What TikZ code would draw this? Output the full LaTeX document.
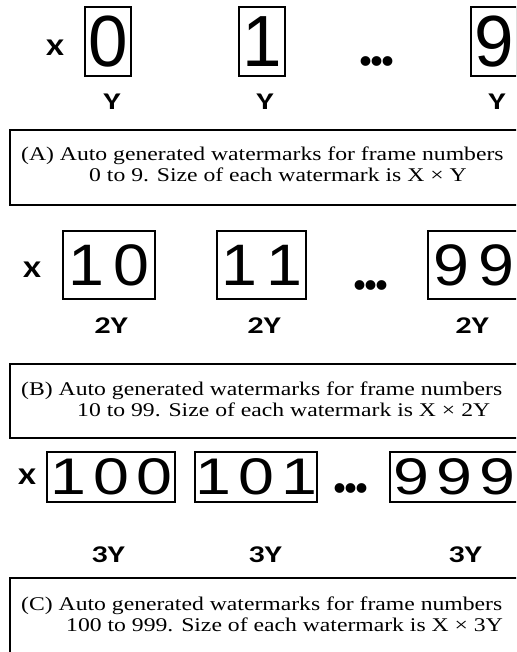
\documentclass[tikz,border=0pt]{standalone}
\usepackage{fontspec}
\usepackage{graphicx}
\setmainfont{Liberation Serif}
\newfontfamily\digitfont{Liberation Sans}
\newfontfamily\labfont{Carlito}
\newfontfamily\dotfont{Liberation Serif}
\newcommand\dig[3]{\scalebox{#1}[#2]{\digitfont\fontsize{50}{50}\selectfont #3}}
\newcommand\lab[1]{\scalebox{1.35}[1]{\labfont\bfseries\fontsize{24}{24}\selectfont #1}}
\newcommand\threedots{{\dotfont\bfseries\fontsize{60}{60}\selectfont .\hspace{-4pt}.\hspace{-4pt}.}}
\newcommand\captxtcmd[1]{\scalebox{1.22}[1]{\fontsize{19.4}{19.4}\selectfont #1}}
\begin{document}
\begin{tikzpicture}[x=1pt,y=-1pt,
  wm/.style={draw, line width=1.8pt, inner sep=0pt},
  lbl/.style={inner sep=0pt},
  dotlbl/.style={inner sep=0pt, anchor=base},
  captxt/.style={inner sep=0pt, anchor=base west},
  capbox/.style={draw, line width=1.5pt}]
\useasboundingbox (0,0) rectangle (516,652);
\clip (0,0) rectangle (516,652);
% Row 1
\node[lbl] (x1) at (55,48) {\lab{X}};
\node[wm, minimum width=46pt, minimum height=69pt] (w0) at (108,41.5) {\dig{1.42}{1.45}{0}};
\node[wm, minimum width=46pt, minimum height=69pt] (w1) at (262,41.5) {\dig{1.42}{1.45}{1}};
\node[dotlbl] (d1) at (377,66) {\threedots};
\node[wm, minimum width=46pt, minimum height=69pt] (w9) at (494,41.5) {\dig{1.42}{1.45}{9}};
\node[lbl] (y0) at (112,102) {\lab{Y}};
\node[lbl] (y1) at (265,102) {\lab{Y}};
\node[lbl] (y9) at (497,102) {\lab{Y}};
% Caption A
\draw[capbox] (10,130) rectangle (530,205);
\node[captxt] (ca1) at (21,161) {\captxtcmd{(A) Auto generated watermarks for frame numbers}};
\node[captxt] (ca2) at (89,182) {\captxtcmd{0 to 9. Size of each watermark is X × Y}};
% Row 2
\node[lbl] (x2) at (32,270) {\lab{X}};
\node[wm, minimum width=92pt, minimum height=68pt] (w10) at (109,265) {\dig{1.29}{1.17}{1\hspace{7pt}0}};
\node[wm, minimum width=89pt, minimum height=68pt] (w11) at (261.5,265) {\dig{1.29}{1.17}{1\hspace{7pt}1}};
\node[dotlbl] (d2) at (371,289) {\threedots};
\node[wm, minimum width=92pt, minimum height=68pt] (w99) at (474,265) {\dig{1.29}{1.17}{9\hspace{7pt}9}};
\node[lbl] (y10) at (111,326) {\lab{2Y}};
\node[lbl] (y11) at (264,326) {\lab{2Y}};
\node[lbl] (y99) at (472,326) {\lab{2Y}};
% Caption B
\draw[capbox] (10,364) rectangle (530,438);
\node[captxt] (cb1) at (21,395) {\captxtcmd{(B) Auto generated watermarks for frame numbers}};
\node[captxt] (cb2) at (77,416) {\captxtcmd{10 to 99. Size of each watermark is X × 2Y}};
% Row 3
\node[lbl] (x3) at (27,477) {\lab{X}};
\node[wm, minimum width=128pt, minimum height=50pt] (w100) at (111,477) {\dig{1.29}{1.03}{1\hspace{5.5pt}0\hspace{5.5pt}0}};
\node[wm, minimum width=112pt, minimum height=50pt] (w101) at (256,477) {\dig{1.29}{1.03}{1\hspace{5.5pt}0\hspace{5.5pt}1}};
\node[dotlbl] (d3) at (351,492) {\threedots};
\node[wm, minimum width=128pt, minimum height=50pt] (w999) at (454,477) {\dig{1.29}{1.03}{9\hspace{5.5pt}9\hspace{5.5pt}9}};
\node[lbl] (y100) at (108,555) {\lab{3Y}};
\node[lbl] (y101) at (265,555) {\lab{3Y}};
\node[lbl] (y999) at (465,555) {\lab{3Y}};
% Caption C
\draw[capbox] (10,578) rectangle (530,670);
\node[captxt] (cc1) at (21,610) {\captxtcmd{(C) Auto generated watermarks for frame numbers}};
\node[captxt] (cc2) at (66,631) {\captxtcmd{100 to 999. Size of each watermark is X × 3Y}};
\end{tikzpicture}
\end{document}
